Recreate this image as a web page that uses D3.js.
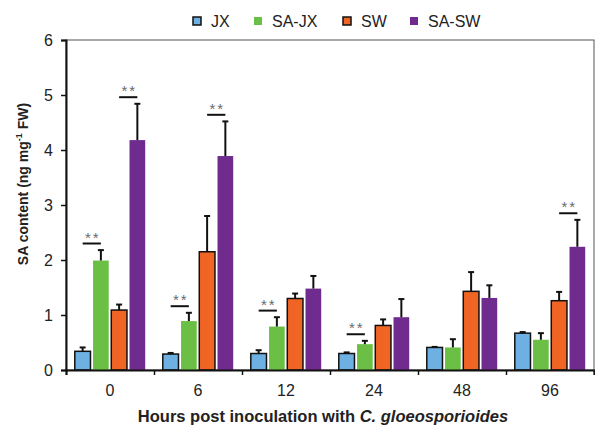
<!DOCTYPE html>
<html>
<head>
<meta charset="utf-8">
<script src="https://cdn.jsdelivr.net/npm/d3@7"></script>
<style>
  body { margin: 0; background: #fff; }
  svg { display: block; font-family: "Liberation Sans", Arial, sans-serif; }
</style>
</head>
<body>
<svg id="chart" width="595" height="426"></svg>
<script>
const hours = ['0', '6', '12', '24', '48', '96']
const series = ['JX', 'SA-JX', 'SW', 'SA-SW']
const colors = ['#6eb0e2', '#6cbf45', '#f06524', '#6f2b8e']
const outlined = [true, false, true, false]

// means per series, one value per hour
const jx = [0.34, 0.29, 0.30, 0.30, 0.41, 0.67]
const saJx = [1.99, 0.89, 0.79, 0.47, 0.41, 0.55]
const sw = [1.09, 2.15, 1.30, 0.81, 1.43, 1.26]
const saSw = [4.18, 3.89, 1.48, 0.96, 1.31, 2.24]

// upper error bars
const jxErr = [0.07, 0.02, 0.06, 0.02, 0.01, 0.02]
const saJxErr = [0.19, 0.15, 0.17, 0.06, 0.15, 0.12]
const swErr = [0.10, 0.65, 0.09, 0.11, 0.35, 0.16]
const saSwErr = [0.66, 0.63, 0.23, 0.33, 0.23, 0.49]

// significance marks: [hour, left series, right series]
const sigMarks = [
  ['0', 'JX', 'SA-JX'], ['0', 'SW', 'SA-SW'],
  ['6', 'JX', 'SA-JX'], ['6', 'SW', 'SA-SW'],
  ['12', 'JX', 'SA-JX'], ['24', 'JX', 'SA-JX'],
  ['96', 'SW', 'SA-SW'],
]

const yTicks = [0, 1, 2, 3, 4, 5, 6]

const means = [jx, saJx, sw, saSw]
const errs = [jxErr, saJxErr, swErr, saSwErr]

const margins = {left: 66, top: 40, right: 1, bottom: 56}
const W = 595, H = 426
const w = W - margins.left - margins.right
const h = H - margins.top - margins.bottom

const svg = d3.select('#chart')
const g = svg.append('g').attr('transform', `translate(${margins.left},${margins.top})`)

const x0 = d3.scaleBand().domain(hours).range([0, w]).paddingInner(0.2).paddingOuter(0.1)
const x1 = d3.scaleBand().domain(series).range([0, x0.bandwidth()]).paddingInner(0.14)
const y = d3.scaleLinear().domain([0, 6]).range([h, 0])
const xEdge = d3.scaleLinear().domain([0, hours.length]).range([0, w])

const data = []
hours.forEach((hr, i) => {
  series.forEach((s, j) => {
    data.push({hour: hr, series: s, value: means[j][i], err: errs[j][i], j: j})
  })
})

// frame
g.append('rect')
  .attr('x', 0).attr('y', 0).attr('width', w).attr('height', h)
  .attr('fill', 'none').attr('stroke', '#555').attr('stroke-width', 1)

// bars
g.selectAll('.bar')
  .data(data)
  .enter()
  .append('rect')
  .attr('class', 'bar')
  .attr('x', (d) => x0(d.hour) + x1(d.series))
  .attr('y', (d) => y(d.value))
  .attr('width', x1.bandwidth())
  .attr('height', (d) => y(0) - y(d.value))
  .attr('fill', (d) => colors[d.j])
  .attr('stroke', (d) => outlined[d.j] ? '#111' : 'none')
  .attr('stroke-width', 1.5)

// error bars
const cx = (d) => x0(d.hour) + x1(d.series) + x1.bandwidth() / 2
const eb = g.selectAll('.err').data(data).enter().append('g').attr('class', 'err')
eb.append('line')
  .attr('x1', cx).attr('x2', cx)
  .attr('y1', (d) => y(d.value))
  .attr('y2', (d) => y(d.value + d.err))
  .attr('stroke', '#111').attr('stroke-width', 2)
eb.append('line')
  .attr('x1', (d) => cx(d) - 3)
  .attr('x2', (d) => cx(d) + 3)
  .attr('y1', (d) => y(d.value + d.err))
  .attr('y2', (d) => y(d.value + d.err))
  .attr('stroke', '#111').attr('stroke-width', 2)

// significance lines + stars
const findTop = (hr, s) => {
  const d = data.find((e) => e.hour === hr && e.series === s)
  return d.value + d.err
}
sigMarks.forEach(([hr, a, b]) => {
  const top = Math.max(findTop(hr, a), findTop(hr, b)) + 0.12
  const xa = x0(hr) + x1(a) + x1.bandwidth() / 2
  const xb = x0(hr) + x1(b) + x1.bandwidth() / 2
  g.append('line')
    .attr('x1', xa).attr('x2', xb)
    .attr('y1', y(top)).attr('y2', y(top))
    .attr('stroke', '#111').attr('stroke-width', 2)
  g.append('text')
    .attr('x', (xa + xb) / 2 + 1).attr('y', y(top) - 1)
    .attr('text-anchor', 'middle')
    .attr('font-size', 15).attr('fill', '#6a6a6a')
    .attr('letter-spacing', 2)
    .text('**')
})

// y axis
const yAxis = g.append('g')
  .call(d3.axisLeft(y).tickValues(yTicks).tickSize(5).tickPadding(8).tickFormat(d3.format('d')))
yAxis.select('.domain').attr('stroke', '#111').attr('stroke-width', 2)
yAxis.selectAll('.tick line').attr('stroke', '#111').attr('stroke-width', 1.5)
yAxis.selectAll('text').attr('font-size', 16).attr('fill', '#222')

// x axis: boundary ticks
const xTickAxis = g.append('g')
  .attr('transform', `translate(0,${h})`)
  .call(d3.axisBottom(xEdge).tickValues(d3.range(hours.length + 1)).tickSize(5).tickFormat(''))
xTickAxis.select('.domain').attr('stroke', '#111').attr('stroke-width', 2)
xTickAxis.selectAll('.tick line').attr('stroke', '#111').attr('stroke-width', 1.5)

// x axis: category labels
const xLabAxis = g.append('g')
  .attr('transform', `translate(0,${h})`)
  .call(d3.axisBottom(x0).tickSize(0).tickPadding(15))
xLabAxis.select('.domain').remove()
xLabAxis.selectAll('text').attr('font-size', 16).attr('fill', '#222')

// axis titles
svg.append('text')
  .attr('transform', 'translate(28,184) rotate(-90)')
  .attr('text-anchor', 'middle')
  .attr('font-size', 14).attr('font-weight', 'bold').attr('fill', '#222')
  .call((t) => {
    t.append('tspan').text('SA content (ng mg')
    t.append('tspan').attr('font-size', 9).attr('dy', -6).text('-1')
    t.append('tspan').attr('dy', 6).text(' FW)')
  })

svg.append('text')
  .attr('x', 323).attr('y', 422)
  .attr('text-anchor', 'middle')
  .attr('font-size', 16.5).attr('font-weight', 'bold').attr('fill', '#222')
  .call((t) => {
    t.append('tspan').text('Hours post inoculation with  ')
    t.append('tspan').attr('font-style', 'italic').text('C. gloeosporioides')
  })

// legend
const legendX = [193, 254, 343, 410]
const legend = svg.append('g')
series.forEach((s, j) => {
  legend.append('rect')
    .attr('x', legendX[j]).attr('y', 17).attr('width', 8).attr('height', 8)
    .attr('fill', colors[j])
    .attr('stroke', outlined[j] ? '#111' : 'none').attr('stroke-width', 1.5)
  legend.append('text')
    .attr('x', legendX[j] + 18).attr('y', 27)
    .attr('font-size', 16).attr('fill', '#222')
    .text(s)
})
</script>
</body>
</html>
